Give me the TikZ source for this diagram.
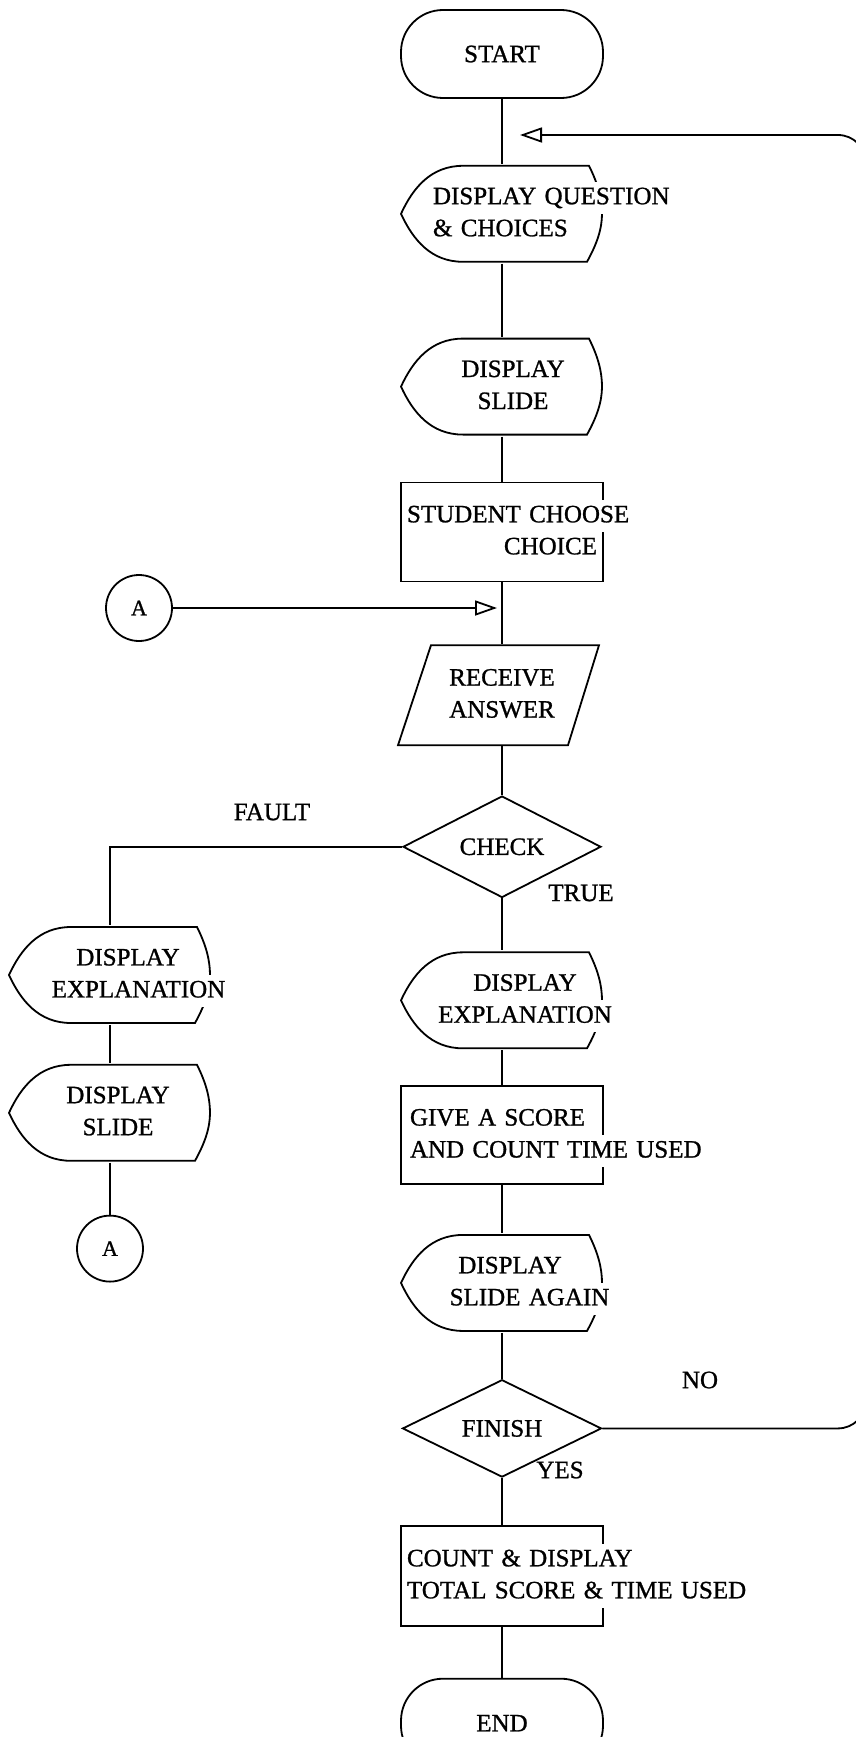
\documentclass[tikz,border=0pt]{standalone}
\usepackage{fontspec}
\setmainfont{Liberation Serif}[FakeBold=1]
\usetikzlibrary{arrows.meta,positioning,shapes.geometric,backgrounds}
\tikzset{>=Stealth}
\setlength{\fboxsep}{0pt}
\newcommand{\linecover}[1]{\colorbox{white}{\strut#1}}
\newcommand{\chartfont}{\fontsize{25}{32}\selectfont\spaceskip=13pt\relax}
% outlines drawn behind the named nodes
\newcommand{\dispoutline}[1]{%
  \begin{scope}[on background layer, shift={(#1.center)}]
    \draw[line width=1.8pt] (-101,0) .. controls (-89,26) and (-71,48) .. (-39,48) -- (87,48)
      .. controls (96,30) and (100,15) .. (100,0) .. controls (100,-15) and (95,-30) .. (85,-48)
      -- (-39,-48) .. controls (-71,-48) and (-89,-26) .. cycle;
  \end{scope}}
\newcommand{\iooutline}[1]{%
  \begin{scope}[on background layer, shift={(#1.center)}]
    \draw[line width=1.8pt] (-71,50) -- (97,50) -- (66,-50) -- (-104,-50) -- cycle;
  \end{scope}}

\begin{document}
\begin{tikzpicture}[
    x=1pt, y=1pt, line width=1.8pt,
    every node/.style={font=\chartfont},
    termbox/.style={rectangle, draw, rounded corners=42pt, minimum width=202pt, minimum height=88pt},
    procbox/.style={rectangle, draw, inner sep=0pt, minimum width=202pt, minimum height=99pt, text width=#1},
    procbox/.default=190pt,
    dispbox/.style={rectangle, inner sep=0pt, minimum width=202pt, minimum height=98pt, text width=240pt, align=center},
    iobox/.style={rectangle, inner sep=0pt, minimum width=202pt, minimum height=100pt, text width=202pt, align=center},
    decisionbox/.style={diamond, draw, inner sep=0pt, minimum width=198pt, minimum height=96pt},
    conbox/.style={circle, draw, inner sep=0pt, minimum size=66pt, font=\fontsize{22}{26}\selectfont},
    lbl/.style={inner sep=0pt},
    arrow/.style={-{Triangle[open, length=22pt, width=15pt]}}
]
    \useasboundingbox (0,0) rectangle (856,-1737);
    \clip (0,0) rectangle (856,-1737);

    % main column
    \node[termbox] (start) at (502,-54) {START};
    \node[dispbox, text width=138pt, align=left, below=65pt of start] (ques) {\linecover{DISPLAY QUESTION}\\\linecover{\& CHOICES}};
    \node[dispbox, below=73pt of ques] (slide) {\hspace*{22pt}\linecover{DISPLAY}\\\hspace*{22pt}\linecover{SLIDE}};
    \node[procbox, align=right, below=45pt of slide] (choose) {\linecover{STUDENT CHOOSE}\\\linecover{CHOICE}};
    \node[iobox, below=62pt of choose] (recv) {\linecover{RECEIVE}\\\linecover{ANSWER}};
    \node[decisionbox, below=49pt of recv] (check) {CHECK};
    \node[dispbox, below=52pt of check] (expl) {\hspace*{46pt}\linecover{DISPLAY}\\\hspace*{46pt}\linecover{EXPLANATION}};
    \node[procbox=184pt, align=left, minimum height=98pt, below=35pt of expl] (score) {\linecover{GIVE A SCORE}\\\linecover{AND COUNT TIME USED}};
    \node[dispbox, below=48pt of score] (again) {\hspace*{16pt}\linecover{DISPLAY}\\\hspace*{55pt}\linecover{SLIDE AGAIN}};
    \node[decisionbox, minimum width=199pt, minimum height=97pt, below=46pt of again] (finish) {FINISH};
    \node[procbox, align=left, minimum height=100pt, below=47pt of finish] (total) {\linecover{COUNT \& DISPLAY}\\\linecover{TOTAL SCORE \& TIME USED}};
    \node[termbox, minimum height=89pt, below=51pt of total] (stop) {END};

    % fault branch
    \node[dispbox] (fexpl) at (110,-975) {\hspace*{36pt}\linecover{DISPLAY}\\\hspace*{57pt}\linecover{EXPLANATION}};
    \node[dispbox, below=38pt of fexpl] (fslide) {\hspace*{16pt}\linecover{DISPLAY}\\\hspace*{16pt}\linecover{SLIDE}};
    \node[conbox, below=52pt of fslide] (contb) {A};
    \node[conbox] (conta) at (139,-608) {A};

    \dispoutline{ques}
    \dispoutline{slide}
    \dispoutline{expl}
    \dispoutline{again}
    \dispoutline{fexpl}
    \dispoutline{fslide}
    \iooutline{recv}

    \coordinate (joinloop) at (520,-135);
    \coordinate (joinA) at (497,-608);

    % labels
    \node[lbl] (lfault) at (272,-812) {FAULT};
    \node[lbl] (ltrue) at (581,-893) {TRUE};
    \node[lbl] (lno) at (700,-1380) {NO};
    \node[lbl] (lyes) at (560,-1470) {YES};

    \draw (start) -- (ques);
    \draw (ques) -- (slide);
    \draw (slide) -- (choose);
    \draw (choose) -- (recv);
    \draw (recv) -- (check);
    \draw (check) -- (expl);
    \draw (expl) -- (score);
    \draw (score) -- (again);
    \draw (again) -- (finish);
    \draw (finish) -- (total);
    \draw (total) -- (stop);

    \draw (check.west) -| (fexpl.north);
    \draw (fexpl) -- (fslide);
    \draw (fslide) -- (contb);

    \draw[arrow] (conta) -- (joinA);
    \draw[arrow, rounded corners=28pt] (finish.east) -| (866,-135) -- (joinloop);
\end{tikzpicture}
\end{document}
